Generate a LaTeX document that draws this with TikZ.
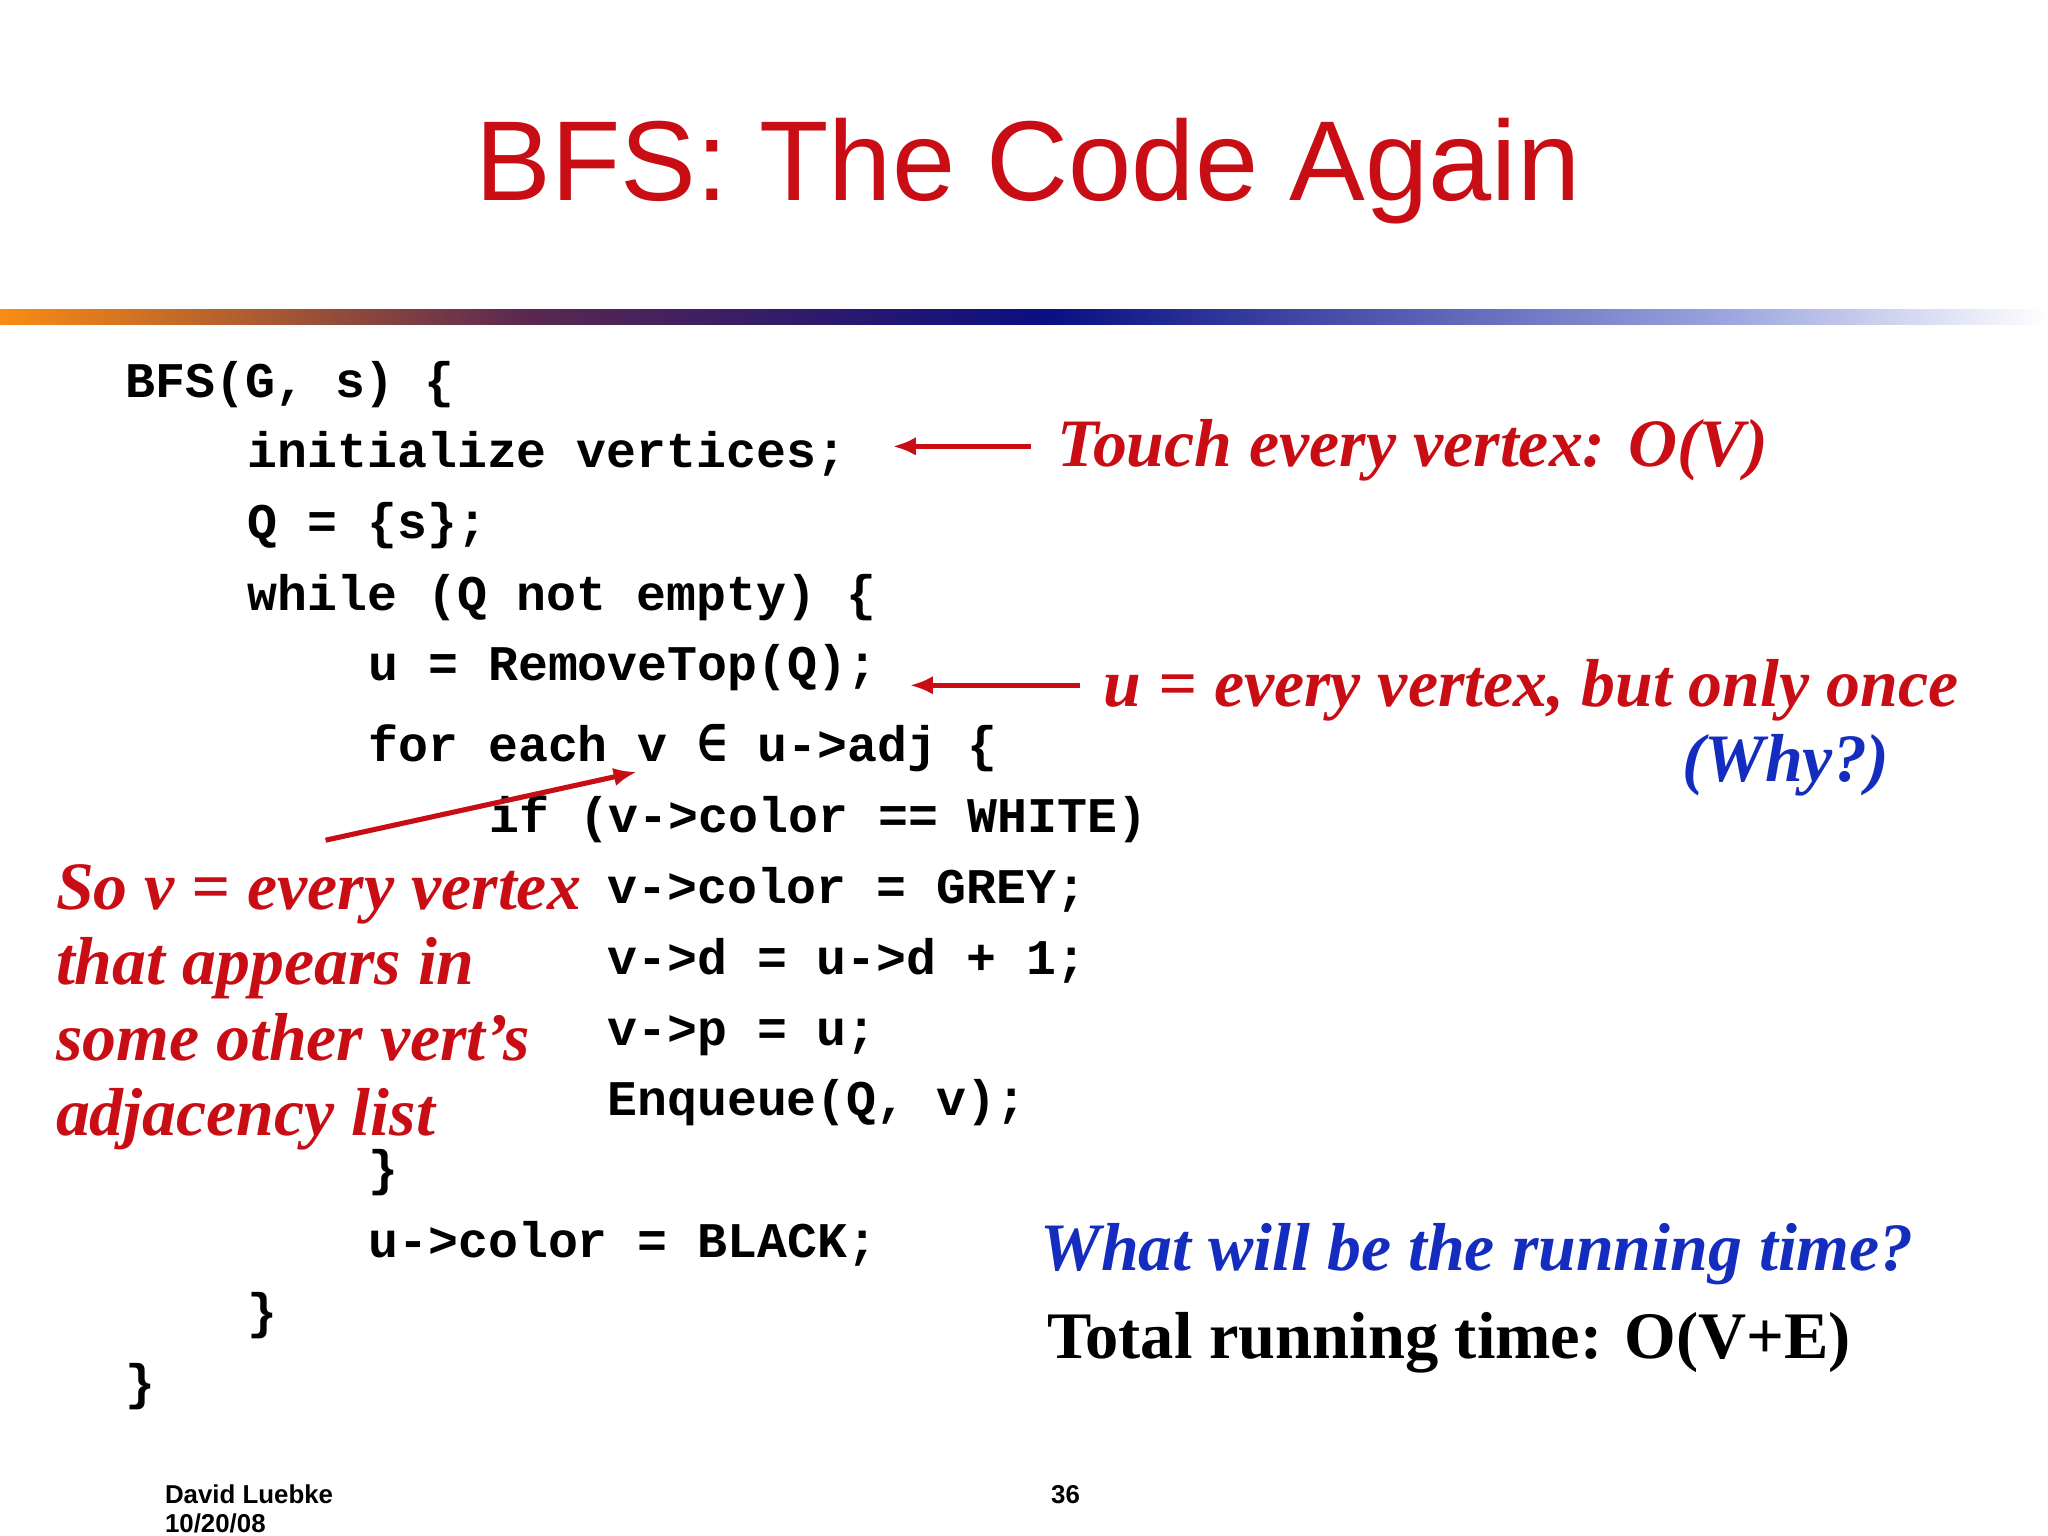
\documentclass[tikz,border=0pt]{standalone}
\usepackage{fontspec}
\usetikzlibrary{arrows.meta}
\setmainfont{Liberation Serif}
\setsansfont{Liberation Sans}
\setmonofont{Liberation Mono}
\newfontfamily\djm{DejaVu Sans Mono}
\definecolor{tred}{RGB}{200,14,20}
\definecolor{tblue}{RGB}{20,45,190}
\definecolor{gor}{RGB}{250,140,20}
\definecolor{gpu}{RGB}{90,40,80}
\definecolor{gnv}{RGB}{10,15,130}
\definecolor{glb}{RGB}{150,160,220}
\begin{document}
\begin{tikzpicture}[x=0.01cm,y=-0.01cm,
  code/.style={anchor=base west,inner sep=0,font=\ttfamily\bfseries\fontsize{10.8}{13}\selectfont},
  note/.style={anchor=base west,inner sep=0,text=tred,font=\bfseries\itshape\fontsize{14.7}{18}\selectfont},
  foot/.style={anchor=base west,inner sep=0,font=\sffamily\bfseries\fontsize{5.6}{7}\selectfont},
  arr/.style={draw=tred,line width=1.1pt,-{Latex[length=5pt,width=4pt]}}]
\useasboundingbox (0,0) rectangle (1560,1170);
\fill[white] (0,0) rectangle (1560,1170);
\node[anchor=base,inner sep=0,text=tred,font=\sffamily\fontsize{24.6}{30}\selectfont] (title) at (783,153) {BFS: The Code Again};
\shade[left color=gor,right color=gpu] (0,236) rectangle (400,247);
\shade[left color=gpu,right color=gnv] (399,236) rectangle (800,247);
\shade[left color=gnv,right color=glb] (799,236) rectangle (1300,247);
\shade[left color=glb,right color=white] (1299,236) rectangle (1560,247);
\node[code] (c1) at (95,303) {BFS(G, s) \{};
\node[code] (c2) at (188,356) {initialize vertices;};
\node[code] (c3) at (188,410) {Q = \{s\};};
\node[code] (c4) at (188,465) {while (Q not empty) \{};
\node[code] (c5) at (280,518) {u = RemoveTop(Q);};
\node[code] (c6) at (280,580) {for each v {\djm ∈} u->adj \{};
\node[code] (c7) at (372,634) {if (v->color == WHITE)};
\node[code] (c8) at (462,688) {v->color = GREY;};
\node[code] (c9) at (462,742) {v->d = u->d + 1;};
\node[code] (c10) at (462,796) {v->p = u;};
\node[code] (c11) at (462,850) {Enqueue(Q, v);};
\node[code] (c12) at (280,903) {\}};
\node[code] (c13) at (280,958) {u->color = BLACK;};
\node[code] (c14) at (188,1012) {\}};
\node[code] (c15) at (95,1066) {\}};
\node[note] (n1) at (805,355) {Touch every vertex: O(V)};
\node[note] (n2) at (840,538) {u = every vertex, but only once};
\node[note,anchor=base east,text=tblue] (n3) at (1440,595) {(Why?)};
\node[note] (l1) at (42,693) {So v = every vertex};
\node[note] (l2) at (42,750) {that appears in};
\node[note] (l3) at (42,808) {some other vert’s};
\node[note] (l4) at (42,865) {adjacency list};
\node[note,text=tblue] (q) at (792,968) {What will be the running time?};
\node[note,text=black,font=\bfseries\fontsize{14.4}{18}\selectfont] (t) at (797,1035) {Total running time: O(V+E)};
\node[foot] (f1) at (125,1145) {David Luebke};
\node[foot] (f2) at (125,1167) {10/20/08};
\node[foot] (f3) at (800,1145) {36};
\coordinate (a1s) at (785,340); \coordinate (a1e) at (680,340);
\coordinate (a2s) at (823,522); \coordinate (a2e) at (693,522);
\coordinate (a3s) at (248,640); \coordinate (a3e) at (485,588);
\draw[arr] (a1s) -- (a1e);
\draw[arr] (a2s) -- (a2e);
\draw[arr] (a3s) -- (a3e);
\end{tikzpicture}
\end{document}
